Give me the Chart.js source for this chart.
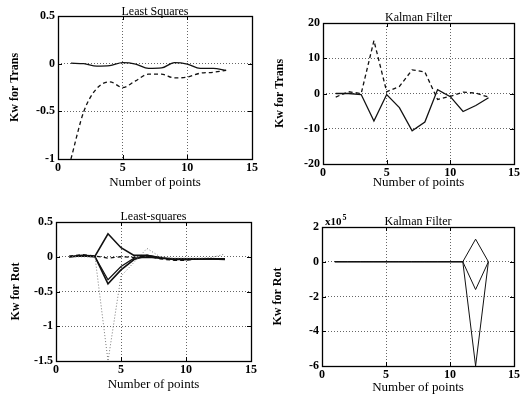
<!DOCTYPE html>
<html><head><meta charset="utf-8">
<script src="https://cdn.jsdelivr.net/npm/chart.js@4/dist/chart.umd.min.js"></script>
<style>
html,body{margin:0;padding:0;background:#fff;}
#wrap{position:relative;width:522px;height:406px;overflow:hidden;background:#fff;}
canvas{position:absolute;}
</style></head><body>
<div id="wrap">
<canvas id="c1" width="261" height="203" style="left:0;top:0"></canvas>
<canvas id="c2" width="261" height="203" style="left:261px;top:0"></canvas>
<canvas id="c3" width="261" height="203" style="left:0;top:203px"></canvas>
<canvas id="c4" width="261" height="203" style="left:261px;top:203px"></canvas>
</div>
<script>
// ---------- data ----------
const xPoints = [1,2,3,4,5,6,7,8,9,10,11,12,13];
const xTickValues = [0,5,10,15];

// Panel 1: Least Squares, Kw for Trans
const lsTransSolid  = [0.005, 0, -0.025, -0.02, 0.01, -0.005, -0.05, -0.045, 0.01, -0.005, -0.05, -0.05, -0.07];
const lsTransDashed = [-1.0, -0.5, -0.26, -0.19, -0.25, -0.18, -0.11, -0.11, -0.15, -0.14, -0.10, -0.09, -0.07];
const lsTransYTicks = [0.5, 0, -0.5, -1];

// Panel 2: Kalman Filter, Kw for Trans
const kfTransSolid  = [0, 0, -0.3, -7.8, -0.3, -4, -10.6, -8.1, 1.1, -0.9, -5.1, -3.4, -1.2];
const kfTransDashed = [-1, 0.5, 0, 15, 0.5, 2, 6.7, 6.1, -1.7, -0.8, 0.4, 0.1, -1];
const kfTransYTicks = [20, 10, 0, -10, -20];

// Panel 3: Least-squares, Kw for Rot
const lsRotSolidA  = [0, 0.02, 0.01, 0.33, 0.13, 0.02, 0.02, -0.02, -0.03, -0.03, -0.03, -0.03, -0.04];
const lsRotSolidB  = [0, 0.01, 0, -0.39, -0.19, -0.04, 0.02, -0.01, -0.04, -0.04, -0.03, -0.03, -0.03];
const lsRotSolidC  = [0, 0.01, 0, -0.33, -0.14, -0.02, -0.01, -0.02, -0.03, -0.04, -0.03, -0.03, -0.03];
const lsRotDotted  = [0, 0, 0, -1.5, -0.28, -0.08, 0.12, 0.0, -0.02, -0.02, -0.02, -0.01, 0.04];
const lsRotDashed  = [0.01, 0.03, 0.01, -0.02, 0.0, -0.01, 0.01, -0.03, -0.05, -0.05, -0.03, -0.03, -0.03];
const lsRotYTicks = [0.5, 0, -0.5, -1, -1.5];

// Panel 4: Kalman Filter, Kw for Rot (units of 10^5)
const kfRotA = [0, 0, 0, 0, 0, 0, 0, 0, 0, 0, 0, 1.3, 0];
const kfRotB = [0, 0, 0, 0, 0, 0, 0, 0, 0, 0, 0, -1.6, 0];
const kfRotC = [0, 0, 0, 0, 0, 0, 0, 0, 0, 0, 0, -6.0, 0];
const kfRotYTicks = [2, 0, -2, -4, -6];

const xLabel = 'Number of points';
const titles = ['Least Squares', 'Kalman Filter', 'Least-squares', 'Kalman Filter'];
const yLabels = ['Kw for Trans', 'Kw for Trans', 'Kw for Rot', 'Kw for Rot'];

// ---------- rendering ----------
const SERIF = '"Liberation Serif", "DejaVu Serif", serif';
const W = 261, H = 203;

function pts(ys){ return xPoints.map((x,i)=>({x:x, y:ys[i]})); }

const solid  = (d, w) => ({data:pts(d), borderColor:'#111', borderWidth:w||1.3, pointRadius:0, fill:false});
const dashed = (d) => ({data:pts(d), borderColor:'#111', borderWidth:1.3, borderDash:[4,3], pointRadius:0, fill:false});
const dotted = (d) => ({data:pts(d), borderColor:'#777', borderWidth:1, borderDash:[1,2], pointRadius:0, fill:false});

const boxPlugin = {
  id:'panelBox',
  afterDraw(chart){
    const o = chart.options.plugins.panelBox;
    const a = chart.chartArea, ctx = chart.ctx;
    ctx.save();
    // inward ticks
    ctx.strokeStyle = '#000'; ctx.lineWidth = 1;
    const xs = chart.scales.x, ys = chart.scales.y;
    ctx.beginPath();
    xs.ticks.forEach(t=>{ const px = Math.round(xs.getPixelForValue(t.value))+0.5;
      ctx.moveTo(px,a.bottom); ctx.lineTo(px,a.bottom-4); ctx.moveTo(px,a.top); ctx.lineTo(px,a.top+4); });
    ys.ticks.forEach(t=>{ const py = Math.round(ys.getPixelForValue(t.value))+0.5;
      ctx.moveTo(a.left,py); ctx.lineTo(a.left+4,py); ctx.moveTo(a.right,py); ctx.lineTo(a.right-4,py); });
    ctx.stroke();
    ctx.lineWidth = 1.3;
    ctx.strokeRect(Math.round(a.left)+0.5, Math.round(a.top)+0.5, Math.round(a.right-a.left), Math.round(a.bottom-a.top));
    // title
    ctx.fillStyle = '#000';
    ctx.font = o.titleFont;
    ctx.textAlign = 'center'; ctx.textBaseline = 'alphabetic';
    ctx.fillText(o.title, (a.left+a.right)/2, a.top - o.titleGap);
    if (o.exponent) {
      ctx.textAlign = 'left';
      ctx.font = 'bold 11px ' + SERIF;
      ctx.fillText('x10', a.left + 3, a.top - 2);
      const w = ctx.measureText('x10').width;
      ctx.font = 'bold 8px ' + SERIF;
      ctx.fillText(o.exponent, a.left + 3 + w + 1, a.top - 7);
    }
    ctx.restore();
  }
};

function makeChart(id, g, yTicks, title, yTitle, datasets, extra){
  const lh = 12*1.2;
  return new Chart(document.getElementById(id), {
    type:'line',
    data:{datasets},
    options:{
      responsive:false, animation:false,
      layout:{padding:{left:0, top:g.T, right:W-g.R, bottom:0}},
      plugins:{legend:{display:false}, tooltip:{enabled:false}, title:{display:false},
        panelBox:{title:title, titleGap:g.tg, titleFont:'12px '+SERIF, exponent:extra && extra.exponent}},
      elements:{line:{tension:0, cubicInterpolationMode:(extra&&extra.smooth)?'monotone':'default'}},
      scales:{
        x:{type:'linear', min:0, max:15,
          afterBuildTicks(s){ s.ticks = xTickValues.map(v=>({value:v})); },
          afterFit(s){ s.height = H - g.B; },
          grid:{color:'#666', lineWidth:1, drawTicks:false},
          border:{display:false, dash:[1,2]},
          ticks:{autoSkip:false, maxRotation:0, padding:g.xtp, color:'#000', font:{family:SERIF, size:12, weight:'bold'},
            callback:(v)=>String(v)},
          title:{display:true, text:xLabel, color:'#000', font:{family:SERIF, size:13}, padding:{top:0, bottom:H - g.xt - lh/2}}
        },
        y:{type:'linear', min:yTicks[yTicks.length-1], max:yTicks[0],
          afterBuildTicks(s){ s.ticks = yTicks.slice().reverse().map(v=>({value:v})); },
          afterFit(s){ s.width = g.L; },
          grid:{color:'#666', lineWidth:1, drawTicks:false},
          border:{display:false, dash:[1,2]},
          ticks:{padding:3, color:'#000', font:{family:SERIF, size:12, weight:'bold'}, callback:(v)=>String(v)},
          title:{display:true, text:yTitle, color:'#000', font:{family:SERIF, size:12, weight:'bold'}, padding:{top:g.yt - lh/2, bottom:0}}
        }
      }
    },
    plugins:[boxPlugin]
  });
}

// geometry per panel (relative to its canvas): plot L,R,T,B ; y-title x ; x-title y ; title gap ; x tick padding
makeChart('c1', {L:58, R:252, T:16, B:159, yt:15, xt:183, tg:1, xtp:2}, lsTransYTicks, titles[0], yLabels[0],
  [solid(lsTransSolid), dashed(lsTransDashed)], {smooth:true});
makeChart('c2', {L:62, R:256, T:23, B:164, yt:19, xt:183, tg:2, xtp:2}, kfTransYTicks, titles[1], yLabels[1],
  [solid(kfTransSolid), dashed(kfTransDashed)]);
makeChart('c3', {L:56, R:251, T:19, B:158, yt:16, xt:182, tg:2, xtp:2}, lsRotYTicks, titles[2], yLabels[2],
  [dotted(lsRotDotted), dashed(lsRotDashed), solid(lsRotSolidC,1.2), solid(lsRotSolidB,1.6), solid(lsRotSolidA,1.6)]);
makeChart('c4', {L:61, R:255, T:24, B:163, yt:17, xt:185, tg:2, xtp:2}, kfRotYTicks, titles[3], yLabels[3],
  [solid(kfRotA,1), solid(kfRotB,1), solid(kfRotC,1)], {exponent:'5'});
</script>
</body></html>
